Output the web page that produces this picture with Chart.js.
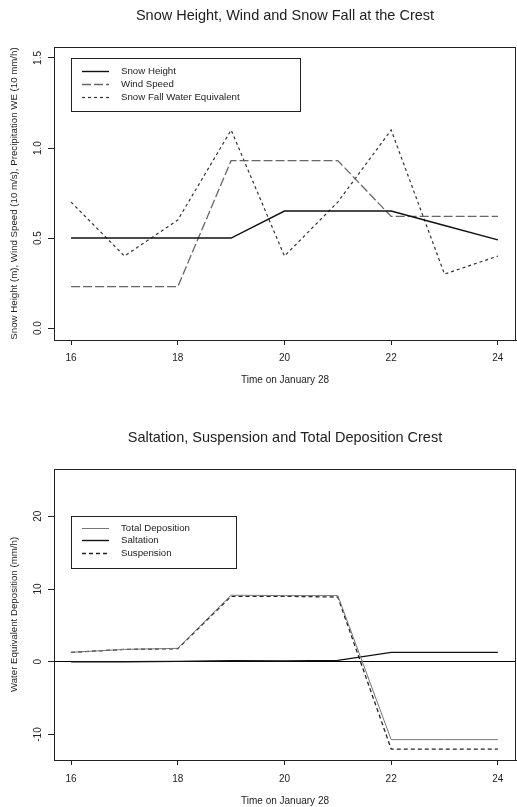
<!DOCTYPE html>
<html>
<head>
<meta charset="utf-8">
<script src="https://cdn.jsdelivr.net/npm/chart.js@4.4.1/dist/chart.umd.min.js"></script>
<style>
  html, body { margin: 0; padding: 0; background: #fff; }
  .box { position: absolute; left: 0; width: 517px; }
  #top { top: 0; height: 400px; }
  #bottom { top: 400px; height: 407px; }
</style>
</head>
<body>
<div class="box" id="top"><canvas id="crestChart"></canvas></div>
<div class="box" id="bottom"><canvas id="depositionChart"></canvas></div>
<script>
// hours on January 28
const hours = [16, 17, 18, 19, 20, 21, 22, 23, 24];
const hourTicks = [16, 18, 20, 22, 24];

// top chart
const snowHeight = [0.5, 0.5, 0.5, 0.5, 0.65, 0.65, 0.65, 0.57, 0.49];
const windSpeed = [0.23, 0.23, 0.23, 0.93, 0.93, 0.93, 0.62, 0.62, 0.62];
const snowFallWE = [0.7, 0.4, 0.6, 1.1, 0.4, 0.7, 1.1, 0.3, 0.4];
const crestTicks = [0, 0.5, 1.0, 1.5];

// bottom chart
const totalDeposition = [1.3, 1.7, 1.85, 9.15, 9.1, 9.1, -10.7, -10.7, -10.7];
const saltation = [0, 0, 0.05, 0.15, 0.1, 0.2, 1.3, 1.3, 1.3];
const suspension = [1.3, 1.7, 1.8, 9.0, 9.0, 8.9, -12.0, -12.0, -12.0];
const depositionTicks = [-10, 0, 10, 20];

Chart.defaults.font.family = "'Liberation Sans', Arial, sans-serif";
Chart.defaults.color = '#222';

const ink = '#222';

function points(values) {
  return hours.map((h, i) => ({ x: h, y: values[i] }));
}

// box around the plot area + R style legend with a frame
const framePlugin = {
  id: 'frame',
  afterDatasetsDraw(chart, args, opts) {
    const { ctx, chartArea: a } = chart;
    ctx.save();
    ctx.strokeStyle = ink;
    ctx.lineWidth = 1;
    ctx.strokeRect(a.left + 0.5, a.top + 0.5, a.right - a.left - 1, a.bottom - a.top);

    const lg = opts.legend;
    ctx.fillStyle = '#fff';
    ctx.fillRect(lg.x, lg.y, lg.w, lg.h);
    ctx.strokeRect(lg.x + 0.5, lg.y + 0.5, lg.w, lg.h);
    ctx.font = "9.7px 'Liberation Sans', Arial, sans-serif";
    ctx.textBaseline = 'middle';
    chart.data.datasets.forEach((ds, i) => {
      const y = Math.round(lg.y + lg.first + i * lg.step) + 0.5;
      ctx.beginPath();
      ctx.setLineDash(ds.borderDash || []);
      ctx.strokeStyle = ds.borderColor;
      ctx.lineWidth = ds.borderWidth;
      ctx.moveTo(lg.x + 11, y);
      ctx.lineTo(lg.x + 38, y);
      ctx.stroke();
      ctx.setLineDash([]);
      ctx.fillStyle = ink;
      ctx.fillText(ds.label, lg.x + 50, y);
    });
    ctx.restore();
  }
};

function buildOptions(cfg) {
  return {
    responsive: true,
    maintainAspectRatio: false,
    animation: false,
    events: [],
    layout: { padding: { left: 0, right: 1, top: 0, bottom: 0 } },
    elements: { point: { radius: 0 }, line: { tension: 0 } },
    plugins: {
      legend: { display: false },
      tooltip: { enabled: false },
      title: {
        display: true,
        fullSize: false,
        text: cfg.title,
        color: ink,
        font: { size: 14.5, weight: 'normal' },
        padding: { top: cfg.titleTop, bottom: cfg.titleBottom }
      },
      frame: { legend: cfg.legend }
    },
    scales: {
      x: {
        type: 'linear',
        min: 15.68,
        max: 24.34,
        afterBuildTicks: s => { s.ticks = hourTicks.map(v => ({ value: v })); },
        afterFit: s => { s.height = cfg.xHeight; },
        grid: { drawOnChartArea: false, drawTicks: true, tickLength: 5, color: ink },
        border: { display: true, color: ink, width: 1 },
        ticks: { color: ink, font: { size: 10 }, padding: cfg.xTickPad, maxRotation: 0, autoSkip: false },
        title: {
          display: true,
          text: 'Time on January 28',
          color: ink,
          font: { size: 10 },
          padding: { top: 0, bottom: cfg.xTitleBottom }
        }
      },
      y: {
        min: cfg.yMin,
        max: cfg.yMax,
        afterBuildTicks: s => { s.ticks = cfg.yTicks.map(v => ({ value: v })); },
        afterFit: s => { s.width = 54; },
        grid: {
          drawOnChartArea: cfg.zeroLine,
          drawTicks: true,
          tickLength: 6,
          color: c => (cfg.zeroLine && c.tick && c.tick.value === 0) ? '#000' : 'rgba(0,0,0,0)',
          tickColor: ink
        },
        border: { display: true, color: ink, width: 1 },
        ticks: {
          color: ink,
          font: { size: 10 },
          minRotation: 90,
          maxRotation: 90,
          crossAlign: 'center',
          padding: 3,
          autoSkip: false,
          callback: v => cfg.yFormat(v)
        },
        title: {
          display: true,
          text: cfg.yTitle,
          color: ink,
          font: { size: 9.7 },
          padding: { top: 8.2, bottom: 0 }
        }
      }
    }
  };
}

new Chart(document.getElementById('crestChart'), {
  type: 'line',
  data: {
    datasets: [
      { label: 'Snow Height', data: points(snowHeight), borderColor: '#111', borderWidth: 1.4 },
      { label: 'Wind Speed', data: points(windSpeed), borderColor: '#666', borderWidth: 1.3, borderDash: [9, 3] },
      { label: 'Snow Fall Water Equivalent', data: points(snowFallWE), borderColor: '#333', borderWidth: 1.2, borderDash: [3, 3] }
    ]
  },
  options: buildOptions({
    title: 'Snow Height, Wind and Snow Fall at the Crest',
    titleTop: 7.3, titleBottom: 22.3,
    xHeight: 60, xTickPad: 7, xTitleBottom: 14,
    yMin: -0.066, yMax: 1.561, yTicks: crestTicks,
    yFormat: v => v.toFixed(1),
    yTitle: 'Snow Height (m), Wind Speed (10 m/s), Precipitation WE (10 mm/h)',
    zeroLine: false,
    legend: { x: 71, y: 58, w: 229, h: 53, first: 13, step: 13 }
  }),
  plugins: [framePlugin]
});

new Chart(document.getElementById('depositionChart'), {
  type: 'line',
  data: {
    datasets: [
      { label: 'Total Deposition', data: points(totalDeposition), borderColor: '#777', borderWidth: 1 },
      { label: 'Saltation', data: points(saltation), borderColor: '#111', borderWidth: 1.4 },
      { label: 'Suspension', data: points(suspension), borderColor: '#222', borderWidth: 1.3, borderDash: [4, 3] }
    ]
  },
  options: buildOptions({
    title: 'Saltation, Suspension and Total Deposition Crest',
    titleTop: 29, titleBottom: 22.6,
    xHeight: 47, xTickPad: 8, xTitleBottom: 0,
    yMin: -13.5, yMax: 26.5, yTicks: depositionTicks,
    yFormat: v => String(v),
    yTitle: 'Water Equivalent Deposition (mm/h)',
    zeroLine: true,
    legend: { x: 71, y: 116, w: 165, h: 52, first: 11.5, step: 12.5 }
  }),
  plugins: [framePlugin]
});
</script>
</body>
</html>
